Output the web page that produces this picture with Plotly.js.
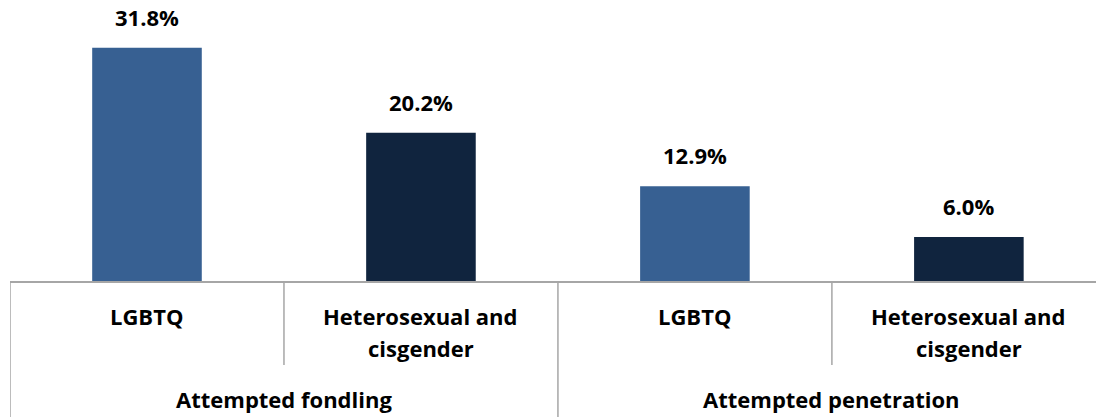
<!DOCTYPE html>
<html><head><meta charset="utf-8">
<script src="https://cdn.plot.ly/plotly-3.0.1.min.js"></script>
<style>html,body{margin:0;padding:0;background:#fff;overflow:hidden}</style>
</head><body><div id="chart" style="width:1096px;height:417px"></div>
<script>
const categories = ["LGBTQ", "Heterosexual and<br>cisgender", "LGBTQ", "Heterosexual and<br>cisgender"];
const groups = ["Attempted fondling", "Attempted penetration"];
const values = [31.8, 20.2, 12.9, 6.0];
const valueLabels = ["31.8%", "20.2%", "12.9%", "6.0%"];
const barColors = ["#376092", "#10243e", "#376092", "#10243e"];

const idx = values.map((v, i) => i);
const font = "'Open Sans', sans-serif";
const fsize = 22;
const plotH = 281, totalH = 417;
const below = (px) => -px / plotH;   // px below the axis line, in paper units

const shapes = [];
[-0.5, 0.5, 1.5, 2.5, 3.5].forEach((x, k) => {
  const long = (k % 2 === 0);
  shapes.push({type: 'line', xref: 'x', yref: 'paper', x0: x, x1: x, y0: 0,
    y1: long ? below(totalH - plotH + 2) : below(84), line: {color: '#a6a6a6', width: 1.5}});
});
const tf = {family: font, size: fsize, color: '#000', weight: 'bold'};
const annotations = [];
idx.forEach(i => {
  annotations.push({x: i, y: values[i], xref: 'x', yref: 'y', text: valueLabels[i], showarrow: false,
    yanchor: 'bottom', yshift: 14, font: tf});
  categories[i].split('<br>').forEach((line, j) => {
    annotations.push({x: i, y: below(35 + 32 * j), xref: 'x', yref: 'paper', text: line, showarrow: false,
      yanchor: 'middle', font: tf});
  });
});
groups.forEach((g, j) => {
  annotations.push({x: 2 * j + 0.5, y: below(118), xref: 'x', yref: 'paper', text: g, showarrow: false,
    yanchor: 'middle', font: tf});
});

Plotly.newPlot('chart', [{
  type: 'bar', x: idx, y: values, width: 0.4,
  marker: {color: barColors}, hoverinfo: 'skip'
}], {
  width: 1096, height: 417,
  margin: {l: 10, r: 0, t: 0, b: totalH - plotH, pad: 0},
  paper_bgcolor: '#fff', plot_bgcolor: '#fff',
  showlegend: false,
  xaxis: {range: [-0.5, 3.464], showticklabels: false, ticks: '', showgrid: false, zeroline: false,
    showline: true, linecolor: '#a6a6a6', linewidth: 1.5},
  yaxis: {range: [0, 38.3], visible: false, showgrid: false, zeroline: false},
  shapes: shapes, annotations: annotations
}, {displayModeBar: false, staticPlot: true});
</script></body></html>
